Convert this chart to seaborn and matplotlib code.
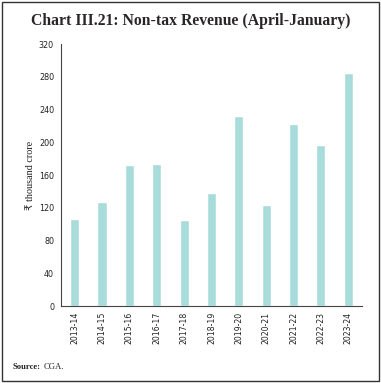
import numpy as np
import pandas as pd
import seaborn as sns
import matplotlib
matplotlib.use('Agg')
import matplotlib.pyplot as plt
from matplotlib.patches import Rectangle

years = ['2013-14', '2014-15', '2015-16', '2016-17', '2017-18', '2018-19',
         '2019-20', '2020-21', '2021-22', '2022-23', '2023-24']
revenue = [106, 127, 172, 174, 105, 138, 232, 123, 222, 197, 285]
yticks = [0, 40, 80, 120, 160, 200, 240, 280, 320]

df = pd.DataFrame({'year': years, 'revenue': revenue})

sns.set_style('white')
plt.rcParams['font.family'] = ['DejaVu Sans']

fig = plt.figure(figsize=(3.81, 3.83), dpi=100)
ax = fig.add_axes([0.160, 0.201, 0.790, 0.684])

sns.barplot(data=df, x='year', y='revenue', color='#a8dcda', width=0.33,
            saturation=1, ax=ax)

ax.set_xlim(-0.5, len(years) - 0.5)
ax.set_ylim(0, 320)
ax.set_yticks(yticks)
ax.set_yticklabels([str(t) for t in yticks], fontsize=5.8, color='#222222')
ax.set_xticks(range(len(years)))
ax.set_xticklabels(years, rotation=90, fontsize=5.6, color='#222222')
ax.set_xticks(np.arange(-0.5, len(years)), minor=True)
ax.tick_params(axis='x', which='major', length=0, pad=4)
ax.tick_params(axis='x', which='minor', length=3, width=0.7, color='#444444', direction='out')
ax.tick_params(axis='y', length=3, width=0.7, color='#444444', direction='out', pad=2)
ax.set_xlabel('')
ax.set_ylabel('₹ thousand crore', fontsize=7.3, family=['Liberation Serif', 'DejaVu Sans'],
              color='#222222', labelpad=3)

for side in ['top', 'right']:
    ax.spines[side].set_visible(False)
for side in ['left', 'bottom']:
    ax.spines[side].set_color('#444444')
    ax.spines[side].set_linewidth(0.8)

fig.text(0.5, 0.945, 'Chart III.21: Non-tax Revenue (April-January)', ha='center', va='center',
         fontsize=11.3, fontweight='bold', family='Liberation Serif', color='#2a2628')

src = fig.text(0.034, 0.043, 'Source:', fontsize=6.2, fontweight='bold',
               family='Liberation Serif', va='center', color='#222222')
fig.canvas.draw()
bb = src.get_window_extent().transformed(fig.transFigure.inverted())
fig.text(bb.x1 + 0.008, 0.043, 'CGA.', fontsize=6.2, family='Liberation Serif',
         va='center', color='#222222')

fig.patches.append(Rectangle((0.004, 0.004), 0.992, 0.992, transform=fig.transFigure,
                             fill=False, edgecolor='#333333', linewidth=1.0))

fig.savefig('out.png', dpi=100)
